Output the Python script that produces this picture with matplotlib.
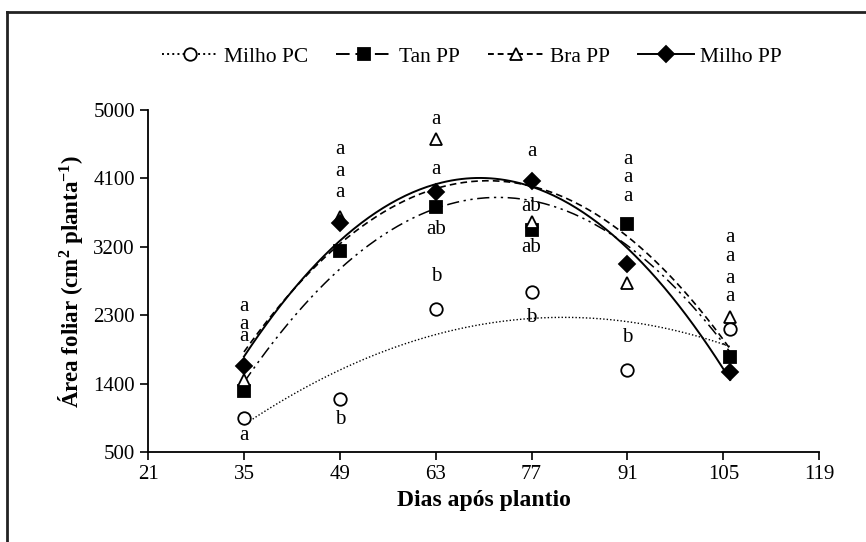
import numpy as np
import matplotlib
matplotlib.use('Agg')
import matplotlib.pyplot as plt
from matplotlib.lines import Line2D

plt.rcParams['font.family'] = ['Liberation Serif', 'DejaVu Serif']
plt.rcParams['font.size'] = 15
plt.rcParams['mathtext.fontset'] = 'custom'
plt.rcParams['mathtext.rm'] = 'Liberation Serif'
plt.rcParams['mathtext.bf'] = 'Liberation Serif:bold'

# dias após plantio
dias = [35, 49, 63, 77, 91, 106]

# área foliar (cm2 planta-1)
milho_pc = [948, 1199, 2385, 2609, 1581, 2121]
tan_pp = [1304, 3149, 3729, 3426, 3505, 1752]
bra_pp = [1449, 3597, 4625, 3531, 2727, 2279]
milho_pp = [1633, 3518, 3927, 4072, 2978, 1554]

# letras de comparação de médias
letra_x = [35, 35, 35, 35,
           49, 49, 49, 49,
           63, 63, 63, 63,
           77, 77, 77, 77,
           91, 91, 91, 91,
           106, 106, 106, 106]
letra_y = [2411, 2174, 2016, 724,
           4480, 4190, 3914, 922,
           4876, 4217, 3426, 2807,
           4454, 3729, 3189, 2266,
           4349, 4112, 3861, 2003,
           3320, 3070, 2780, 2543]
letra_txt = ['a', 'a', 'a', 'a',
             'a', 'a', 'a', 'b',
             'a', 'a', 'ab', 'b',
             'a', 'ab', 'ab', 'b',
             'a', 'a', 'a', 'b',
             'a', 'a', 'a', 'a']

fig = plt.figure(figsize=(8.66, 5.42), dpi=100)
ax = fig.add_axes([0.171, 0.166, 0.775, 0.631])

xx = np.linspace(35, 106, 200)

series = [
    (milho_pc, 'o', 'white', (0, (1, 1.5)), 1.0, ':'),
    (tan_pp, 's', 'black', (0, (8, 3, 1.5, 3, 1.5, 3)), 1.1, (0, (7, 3))),
    (bra_pp, '^', 'white', (0, (4, 2.5)), 1.2, (0, (3, 2))),
    (milho_pp, 'D', 'black', '-', 1.4, '-'),
]
nomes = ['Milho PC', 'Tan PP', 'Bra PP', 'Milho PP']
handles = []
for (vals, mk, fc, ls, lw, ls_leg), nome in zip(series, nomes):
    coef = np.polyfit(dias, vals, 2)
    ax.plot(xx, np.polyval(coef, xx), color='black', linestyle=ls, linewidth=lw)
    ms = 8 if mk == 'D' else 9
    ax.plot(dias, vals, linestyle='none', marker=mk, markersize=ms,
            markerfacecolor=fc, markeredgecolor='black', markeredgewidth=1.3)
    handles.append(Line2D([], [], color='black', linestyle=ls_leg, linewidth=1.4,
                          marker=mk, markersize=ms, markerfacecolor=fc,
                          markeredgecolor='black', markeredgewidth=1.3, label=nome))

for x, y, t in zip(letra_x, letra_y, letra_txt):
    ax.text(x, y, t, ha='center', va='center', fontsize=15)

ax.set_xlim(21, 119)
ax.set_ylim(500, 5000)
ax.set_xticks(np.arange(21, 120, 14))
ax.set_yticks(np.arange(500, 5001, 900))
ax.spines['top'].set_visible(False)
ax.spines['right'].set_visible(False)
ax.spines['left'].set_linewidth(1.3)
ax.spines['bottom'].set_linewidth(1.3)
ax.tick_params(direction='out', length=6, width=1.2, labelsize=15)
ax.set_xlabel('Dias após plantio', fontsize=17, fontweight='bold', labelpad=4)
ax.set_ylabel(r'Área foliar (cm$\mathbf{^{2}}$ planta$\mathbf{^{-1}}$)',
              fontsize=16.5, fontweight='bold', labelpad=6)

fig.legend(handles=handles, loc='center', bbox_to_anchor=(0.545, 0.895), ncol=4,
           frameon=False, handlelength=2.6, columnspacing=1.3, handletextpad=0.3,
           fontsize=15.5)

# moldura parcial
fig.add_artist(Line2D([0.008, 0.008], [0, 0.978], color='#222222', linewidth=2))
fig.add_artist(Line2D([0.008, 1.0], [0.978, 0.978], color='#222222', linewidth=2))

fig.savefig('out.png', dpi=100)
